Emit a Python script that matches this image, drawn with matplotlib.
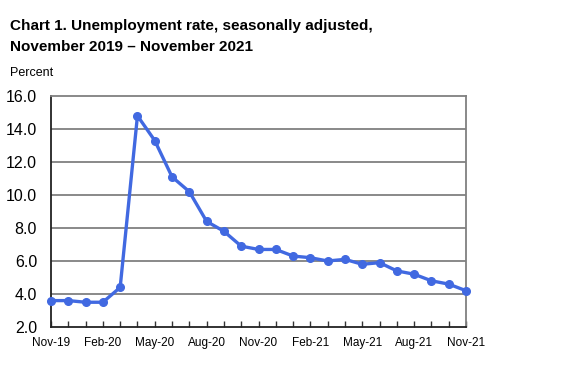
import matplotlib
matplotlib.use("Agg")
import matplotlib.pyplot as plt

plt.rcParams['font.family'] = ['Liberation Sans', 'DejaVu Sans']

months = ['Nov-19', 'Dec-19', 'Jan-20', 'Feb-20', 'Mar-20', 'Apr-20', 'May-20',
          'Jun-20', 'Jul-20', 'Aug-20', 'Sep-20', 'Oct-20', 'Nov-20', 'Dec-20',
          'Jan-21', 'Feb-21', 'Mar-21', 'Apr-21', 'May-21', 'Jun-21', 'Jul-21',
          'Aug-21', 'Sep-21', 'Oct-21', 'Nov-21']
rate = [3.6, 3.6, 3.5, 3.5, 4.4, 14.8, 13.3, 11.1, 10.2, 8.4, 7.8, 6.9, 6.7,
        6.7, 6.3, 6.2, 6.0, 6.1, 5.8, 5.9, 5.4, 5.2, 4.8, 4.6, 4.2]
yticks = [2.0, 4.0, 6.0, 8.0, 10.0, 12.0, 14.0, 16.0]

fig = plt.figure(figsize=(5.69, 3.84), dpi=100)
ax = fig.add_axes([51 / 569, 1 - 327 / 384, 415 / 569, 231 / 384])

x = list(range(len(months)))
color = '#4169e1'
ax.plot(x, rate, color=color, lw=2.4, marker='o', ms=5.5, zorder=3, clip_on=False)

ax.set_xlim(0, len(months) - 1)
ax.set_ylim(2, 16)
ax.set_yticks(yticks)
ax.set_yticklabels([f'{v:.1f}' for v in yticks], fontsize=11.5)
ax.tick_params(axis='y', length=0, pad=10)
for v in yticks[1:-1]:
    ax.axhline(v, color='#808080', lw=1.3, zorder=1)

ax.set_xticks(x)
ax.set_xticklabels([m if i % 3 == 0 else '' for i, m in enumerate(months)], fontsize=8.5)
ax.tick_params(axis='x', direction='in', length=4, width=1, color='#333333', pad=7)

for s in ax.spines.values():
    s.set_color('#808080')
    s.set_linewidth(1.3)
ax.spines['left'].set_color('#222222')
ax.spines['bottom'].set_color('#222222')

fig.text(10 / 569, 1 - 30 / 384, 'Chart 1. Unemployment rate, seasonally adjusted,',
         fontsize=11, fontweight='bold')
fig.text(10 / 569, 1 - 51 / 384, 'November 2019 \u2013 November 2021',
         fontsize=11, fontweight='bold')
fig.text(10 / 569, 1 - 76 / 384, 'Percent', fontsize=9)

fig.savefig('out.png', dpi=100)
